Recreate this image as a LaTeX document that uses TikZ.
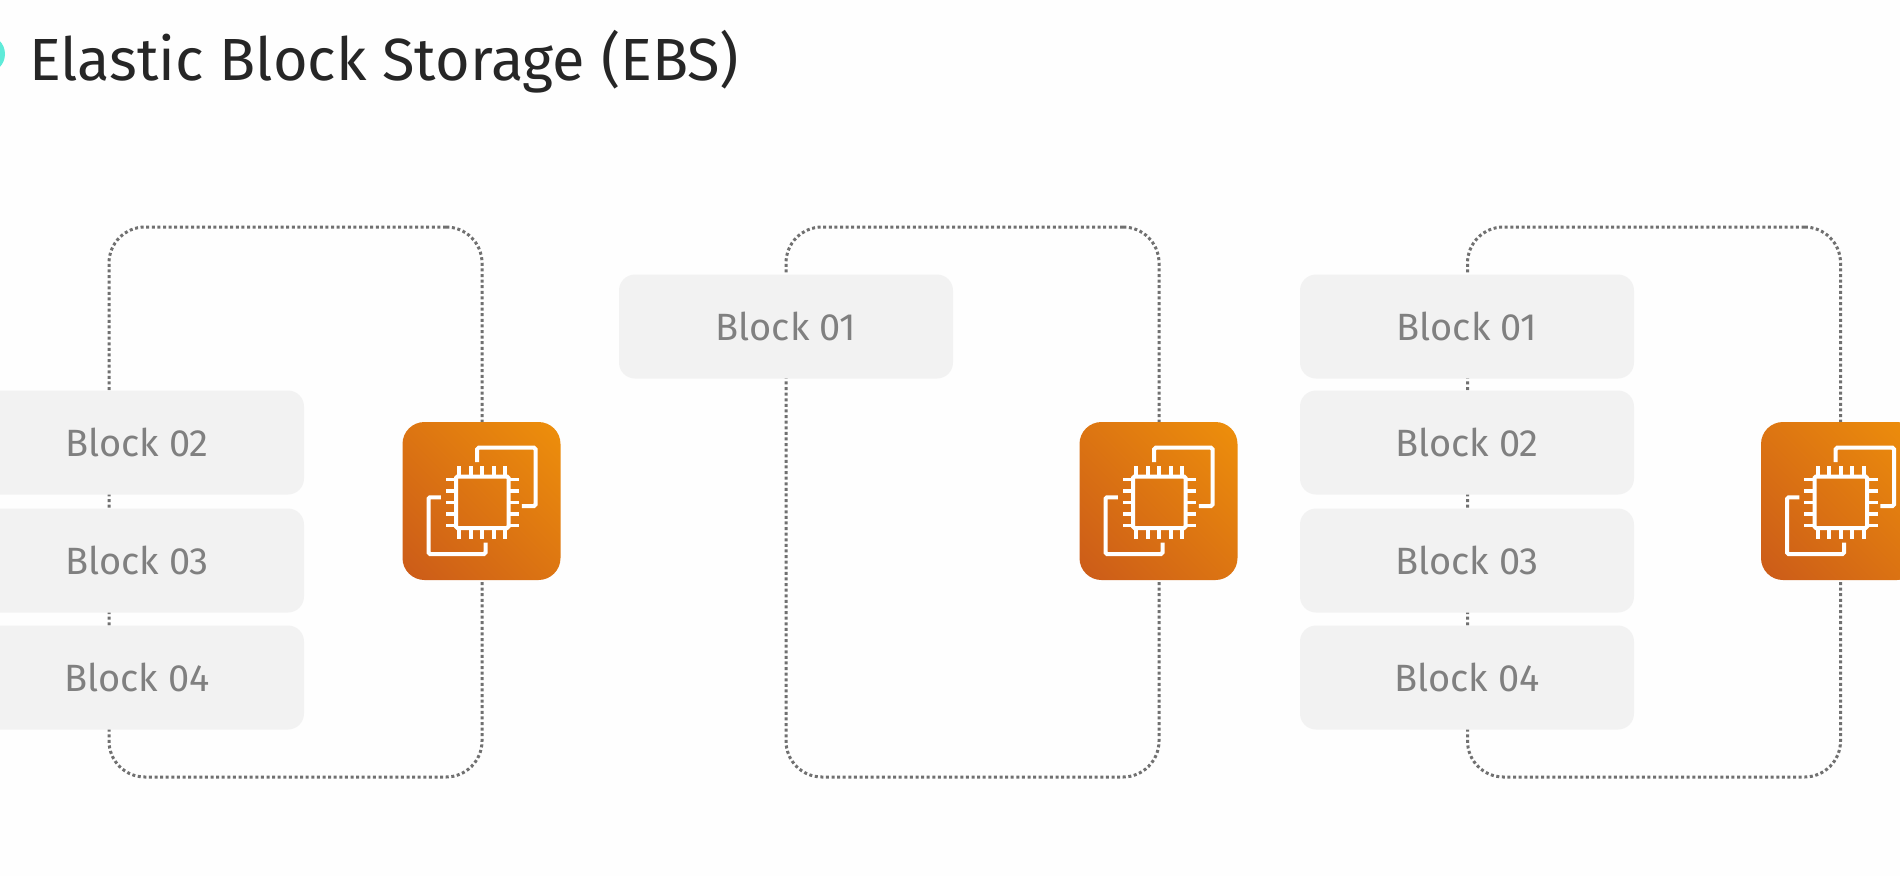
\documentclass[tikz,border=0pt]{standalone}
\usepackage{fontspec}
\setmainfont{Fira Sans}
\definecolor{bgcol}{HTML}{FEFEFE}
\definecolor{blockfill}{HTML}{F2F2F2}
\definecolor{blocktext}{HTML}{808080}
\definecolor{titletext}{HTML}{262626}
\definecolor{dotcol}{HTML}{707070}
\definecolor{orangeA}{HTML}{C4501C}
\definecolor{orangeB}{HTML}{F59A08}
\definecolor{dotcyan}{HTML}{5FEBD9}
\pgfdeclareverticalshading{iconshade}{100bp}{color(0bp)=(orangeA); color(100bp)=(orangeB)}
\tikzset{
  blockbox/.style={fill=blockfill,draw=none,rounded corners=16pt,minimum width=334pt,minimum height=104pt,inner sep=0pt,text=blocktext,font=\fontsize{38}{44}\selectfont},
  instbox/.style={draw=dotcol,line width=3pt,dash pattern=on 3pt off 2.6pt,rounded corners=36pt,minimum width=373pt,minimum height=550pt,inner sep=0pt},
  iconbox/.style={draw=none,rounded corners=22pt,minimum size=158pt,inner sep=0pt,shading=iconshade,shading angle=-45},
  iconline/.style={draw=white,line width=4pt,rounded corners=1.5pt},
  pinline/.style={draw=white,line width=3.6pt},
}
\newcommand{\ecicon}[3]{%
  \node[iconbox] (#1) at (#2,#3) {};
  \begin{scope}[shift={(#2,#3)}]
    \draw[iconline] (-4.3,-39) -- (-4.3,-53.3) -- (54,-53.3) -- (54,5) -- (40.3,5);
    \draw[iconline] (-40.7,-3.7) -- (-53,-3.7) -- (-53,53) -- (4,53) -- (4,41.7);
    \draw[iconline] (-25.5,-24.5) rectangle (27,27);
    \foreach \p in {-23,-11.5,0,11.5,23}{
      \draw[pinline] (\p+0.7,-24.5) -- (\p+0.7,-35);
      \draw[pinline] (\p+0.7,27) -- (\p+0.7,37.5);
      \draw[pinline] (-25.5,\p+1.3) -- (-36,\p+1.3);
      \draw[pinline] (27,\p+1.3) -- (37.5,\p+1.3);
    }
  \end{scope}}
\begin{document}
\begin{tikzpicture}[x=1pt,y=-1pt]
\useasboundingbox (0,0) rectangle (1900,876);
\clip (0,0) rectangle (1900,876);
\fill[bgcol] (0,0) rectangle (1900,876);
\node[fill=dotcyan,circle,minimum size=38pt,inner sep=0pt] (bullet) at (-14,54) {};
\node[anchor=base west,inner sep=0pt,text=titletext,font=\fontsize{59.5}{70}\selectfont] (title) at (29,80) {Elastic Block Storage (EBS)};
% instance frames
\node[instbox] (inst1) at (295.5,502) {};
\node[instbox] (inst2) at (972.5,502) {};
\node[instbox] (inst3) at (1654,502) {};
% first group
\node[blockbox] (a2) at (137,442.5) {Block 02};
\node[blockbox] (a3) at (137,560.5) {Block 03};
\node[blockbox] (a4) at (137,677.5) {Block 04};
% second group
\node[blockbox] (b1) at (786,326.5) {Block 01};
% third group
\node[blockbox] (c1) at (1467,326.5) {Block 01};
\node[blockbox] (c2) at (1467,442.5) {Block 02};
\node[blockbox] (c3) at (1467,560.5) {Block 03};
\node[blockbox] (c4) at (1467,677.5) {Block 04};
% icons
\ecicon{ec1}{481.5}{501}
\ecicon{ec2}{1158.5}{501}
\ecicon{ec3}{1840}{501}
\end{tikzpicture}
\end{document}
